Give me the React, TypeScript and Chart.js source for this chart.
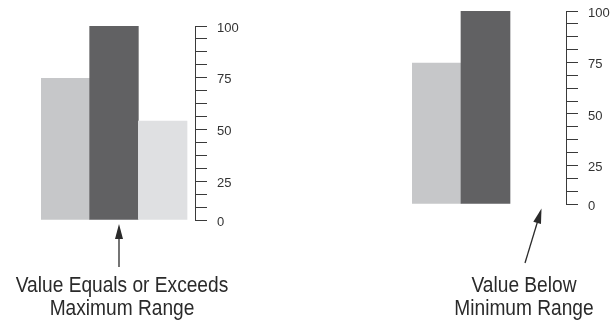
import React, { useEffect, useRef } from 'react';
import { Chart, registerables } from 'chart.js';

Chart.register(...registerables);

// ---- data ----
const CATEGORIES = ['Lower', 'Value', 'Upper'];
const LEFT_VALUES: (number | null)[] = [73, 100, 51];
const RIGHT_VALUES: (number | null)[] = [73, 100, null];
const BAR_COLORS = ['#c6c7c9', '#616163', '#dfe0e2'];
const TICK_LABELS = ['0', '', '', '25', '', '', '', '50', '', '', '', '75', '', '', '', '100'];
const AXIS_MIN = 0;
const AXIS_MAX = 100;
const LEFT_CAPTION = ['Value Equals or Exceeds', 'Maximum Range'];
const RIGHT_CAPTION = ['Value Below', 'Minimum Range'];

const FONT = '"Liberation Sans", Arial, sans-serif';
const INK = '#2a2a2a';

type GaugeProps = {
  values: (number | null)[];
  left: number;
  top: number;
  width: number;
  height: number;
  padding: { left: number; top: number; right: number; bottom: number };
  xMax: number;
};

function BarGauge({ values, left, top, width, height, padding, xMax }: GaugeProps) {
  const ref = useRef<HTMLCanvasElement | null>(null);
  useEffect(() => {
    if (!ref.current) return;
    const chart = new Chart(ref.current, {
      type: 'bar',
      data: {
        labels: CATEGORIES,
        datasets: [
          {
            data: values.map((v, i) => ({ x: i, y: v })) as any,
            backgroundColor: BAR_COLORS,
            borderWidth: 0,
            barPercentage: 1,
            categoryPercentage: 1,
          },
        ],
      },
      options: {
        animation: false,
        responsive: false,
        devicePixelRatio: 1,
        layout: { padding },
        plugins: { legend: { display: false }, tooltip: { enabled: false } },
        scales: {
          x: {
            type: 'linear',
            display: false,
            offset: false,
            min: -0.5,
            max: xMax,
          },
          y: {
            position: 'right',
            min: AXIS_MIN,
            max: AXIS_MAX,
            afterBuildTicks: (s: any) => {
              const n = TICK_LABELS.length - 1;
              s.ticks = TICK_LABELS.map((_, i) => ({ value: AXIS_MIN + ((AXIS_MAX - AXIS_MIN) * i) / n }));
            },
            afterFit: (s: any) => {
              s.width = 50;
            },
            ticks: {
              autoSkip: false,
              callback: (_v: any, i: number) => TICK_LABELS[i],
              padding: 10,
              labelOffset: 2,
              color: '#333',
              font: { family: FONT, size: 13 },
            },
            grid: {
              drawOnChartArea: false,
              drawTicks: true,
              tickLength: 12,
              color: '#3a3a3a',
              lineWidth: 1,
            },
            border: { display: true, color: '#3a3a3a', width: 1 },
          },
        },
      } as any,
    });
    return () => chart.destroy();
  }, []);
  return (
    <canvas
      ref={ref}
      width={width}
      height={height}
      style={{ position: 'absolute', left, top, width, height }}
    />
  );
}

function Caption({ lines, center, top }: { lines: string[]; center: number; top: number }) {
  return (
    <div
      style={{
        position: 'absolute',
        left: center - 150,
        width: 300,
        top,
        textAlign: 'center',
        fontFamily: FONT,
        fontSize: 22,
        lineHeight: '23px',
        color: INK,
        whiteSpace: 'nowrap',
        transform: 'scaleX(0.87)',
        transformOrigin: '50% 50%',
      }}
    >
      {lines.map((l, i) => (
        <div key={i}>{l}</div>
      ))}
    </div>
  );
}

function Arrow({ tip, tail }: { tip: [number, number]; tail: [number, number] }) {
  const dx = tip[0] - tail[0];
  const dy = tip[1] - tail[1];
  const len = Math.hypot(dx, dy);
  const ux = dx / len;
  const uy = dy / len;
  const headLen = 15;
  const half = 4;
  const bx = tip[0] - ux * headLen;
  const by = tip[1] - uy * headLen;
  const px = -uy * half;
  const py = ux * half;
  return (
    <g>
      <line x1={tail[0]} y1={tail[1]} x2={bx + ux * 2} y2={by + uy * 2} stroke={INK} strokeWidth={1.3} />
      <polygon
        points={`${tip[0]},${tip[1]} ${bx + px},${by + py} ${bx - px},${by - py}`}
        fill={INK}
      />
    </g>
  );
}

export default function App() {
  return (
    <div
      style={{
        position: 'absolute',
        left: 0,
        top: 0,
        width: 613,
        height: 323,
        background: '#fff',
        overflow: 'hidden',
      }}
    >
      <BarGauge
        values={LEFT_VALUES}
        left={0}
        top={0}
        width={245}
        height={240}
        padding={{ left: 41, top: 26, right: 0, bottom: 20 }}
        xMax={2.664}
      />
      <BarGauge
        values={RIGHT_VALUES}
        left={360}
        top={-10}
        width={256}
        height={234}
        padding={{ left: 52, top: 21, right: 0, bottom: 20 }}
        xMax={2.643}
      />
      <svg width={613} height={323} style={{ position: 'absolute', left: 0, top: 0 }}>
        <Arrow tip={[119, 224]} tail={[119, 267]} />
        <Arrow tip={[541.5, 208.5]} tail={[525, 263]} />
      </svg>
      <Caption lines={LEFT_CAPTION} center={122} top={273} />
      <Caption lines={RIGHT_CAPTION} center={524} top={273} />
    </div>
  );
}
